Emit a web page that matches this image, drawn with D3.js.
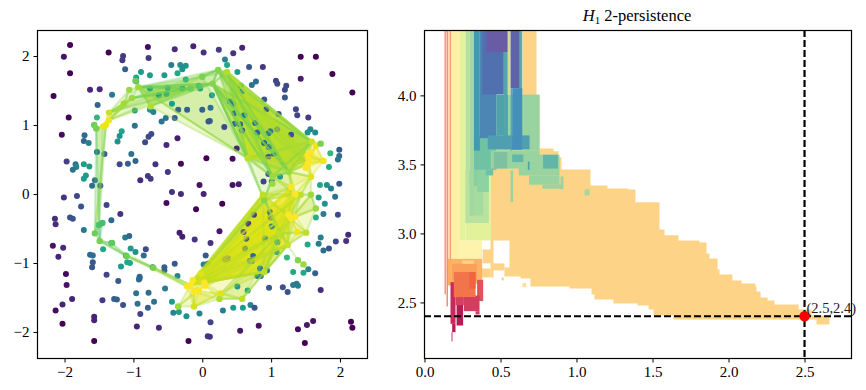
<!DOCTYPE html>
<html>
<head>
<meta charset="utf-8">
<script src="https://cdn.jsdelivr.net/npm/d3@7"></script>
<style>
body { margin: 0; background: #fff; }
text { font-family: "Liberation Serif", serif; }
.tick text { font-size: 15px; fill: #000; }
</style>
</head>
<body>
<svg id="chart" width="866" height="390"></svg>
<script>
// point cloud: x, y, density (viridis position)
var points = [
[-1.92,2.16,0],[-2.01,1.99,.05],[-1.92,1.75,0],[-2.16,1.42,0],[-1.36,2.05,0],[-.79,2.13,.03],[-.40,2.10,.12],[-.13,2.14,.1],
[-1.15,2.0,.17],[-1.16,1.94,.17],[-.78,1.97,.17],[-1.12,1.81,.3],[-.45,1.87,.42],[-.32,1.87,.5],[-.24,1.86,.5],[-.29,1.81,.5],
[-.89,1.77,.55],[-.96,1.69,.6],[-.76,1.72,.55],[-.55,1.72,.55],[-.36,1.75,.6],[-1.63,1.51,.1],[-1.49,1.52,.12],[-1.31,1.44,.4],
[-1.52,1.29,.32],[-1.94,1.11,0],[-1.53,1.11,.66],[-2.04,.86,.03],[-1.71,.85,.35],[-1.72,.77,.33],[-1.65,.74,.42],[-1.20,.84,.5],
[-1.17,.91,.58],[-1.23,.76,.5],[-.98,.99,.38],[-.98,1.21,.55],[-.76,1.22,.52],[-.71,1.19,.45],[-.59,1.05,.38],[-.53,1.10,.38],
[-.40,1.10,.3],[-.35,1.22,.32],[-.22,1.22,.3],[0,1.22,.3],[-.44,1.31,.55],[-.74,.87,.22],[-.78,.83,.22],[-.83,.75,.22],
[-.36,.81,.08],[-.52,.71,.12],[-1.53,.61,.38],[-1.42,.58,.3],[-1.97,.47,.18],[-1.84,.43,.4],[-1.83,.39,.45],[-1.88,.35,.38],
[-1.72,.43,.55],[-1.64,.40,.55],[-1.03,.58,.38],[-1.08,.44,.3],[-1.20,.43,.22],[-.97,.48,.33],[-.68,.43,.15],[-.31,.44,.02],
[-.50,.32,.17],[-.79,.26,.17],[-.75,.22,.17],[-.90,.20,.12],[-1.69,.27,.55],[-1.72,.22,.55],[-1.56,.20,.38],[-1.60,.12,.35],
[-1.48,.12,.25],[-.44,.03,.15],[-.31,0,.12],[-.04,.13,.05],[-2.01,-.05,.15],[-1.82,-.03,.22],[-.96,1.63,.65],[-.76,1.53,.6],
[-.50,1.54,.55],[-.63,1.43,.55],[-.52,1.45,.55],[-.29,1.53,.55],[-.24,1.66,.6],[-.05,1.57,.55],
[-1.76,-.18,.25],[-1.39,-.16,.2],[-1.19,-.29,.15],[-2.14,-.36,.13],[-2.13,-.44,.13],[-1.92,-.34,.25],[-1.88,-.36,.25],[-1.32,-.38,.33],
[-1.72,-.52,.4],[-.52,-.13,.03],[-.09,-.22,0],[-.33,-.56,.08],[-.29,-.62,.08],[-.11,-.66,.15],[-2.17,-.75,.05],[-2.02,-.78,.12],
[-2.09,-.91,.1],[-1.12,-.63,.42],[-1.06,-.61,.33],[-1.44,-.80,.6],[-1.32,-.71,.6],[-1.04,-.79,.55],[-.97,-.84,.5],[-.82,-.80,.22],
[-.85,-.89,.35],[-1.11,-.89,.55],[-1.63,-.88,.35],[-1.59,-.89,.35],[-1.59,-.99,.27],[-1.60,-1.06,.27],[-1.18,-1.05,.55],[-1.09,-.99,.6],
[-1.05,-1.0,.6],[-.72,-1.06,.33],[-.55,-1.06,.3],[-.55,-1.11,.3],[-.40,-1.01,.27],[-.36,-1.19,.45],[-1.39,-1.17,.2],[-1.98,-1.16,.02],
[-1.97,-1.32,.05],[-1.22,-1.26,.27],[-.91,-1.20,.33],[-.91,-1.22,.33],[-.92,-1.24,.33],[-.54,-1.37,.42],[-.96,-1.44,.38],[-.78,-1.43,.35],
[-1.89,-1.52,.1],[-2.03,-1.60,.1],[-2.13,-1.69,.03],[-1.45,-1.54,.17],[-1.28,-1.52,.3],[-1.24,-1.53,.3],[-.94,-1.59,.38],[-.70,-1.56,.38],
[-1.15,-1.61,.25],[-.79,-1.65,.3],[-.44,-1.56,.55],[-.90,-1.74,.2],[-.42,-1.72,.45],[-.34,-1.71,.55],[-.23,-1.77,.5],[-.04,-1.73,.45],
[-2.03,-1.88,0],[-1.57,-1.78,.1],[-1.57,-1.83,.1],[-.95,-1.92,.1],[-.63,-1.94,.12],[-1.57,-2.13,0],[-.20,-2.13,0],
[.02,2.05,.15],[.24,2.09,.17],[.45,2.04,.15],[.58,2.12,.1],[1.43,1.99,0],[1.65,1.99,0],[1.89,1.74,0],[1.43,1.67,.08],
[2.18,1.47,0],[.33,1.95,.45],[.36,1.87,.6],[.51,1.77,.55],[.68,1.84,.27],[.88,1.84,.17],[1.07,1.64,.2],[1.09,1.60,.22],
[1.22,1.57,.22],[1.20,1.51,.22],[1.20,1.40,.27],[.78,1.63,.35],[.72,1.58,.38],[.56,1.57,.55],[.58,1.49,.5],[-.03,1.53,.6],
[.90,1.37,.27],[1.36,1.23,.2],[1.38,1.14,.2],[1.54,1.11,.17],[.93,1.23,.25],[1.11,1.16,.25],[.40,1.34,.42],[.45,1.31,.42],
[.14,1.43,.55],[.12,1.25,.38],[.47,1.17,.38],[.61,1.14,.38],[.77,1.03,.33],[.09,1.05,.27],[.11,1.06,.27],[.32,.97,.22],
[.47,1.02,.33],[.55,1.01,.35],[.58,.92,.3],[.80,.89,.33],[.99,.91,.4],[.96,.88,.42],[1.09,.94,.33],[1.29,.86,.25],
[1.57,.94,.45],[1.53,.89,.5],[1.64,.89,.48],[.90,.74,.27],[.97,.68,.28],[.50,.66,.1],[.06,.52,0],[.44,.51,.03],
[1.04,.58,.27],[.96,.54,.27],[1.86,.59,.66],[1.99,.64,.27],[1.99,.55,.35],[1.97,.50,.38],[1.84,.39,.6],[.96,.29,.3],
[.89,.18,.2],[1.01,.18,.42],[1.13,.25,.55],[.53,.14,.08],[.44,.13,.05],[.02,0,.1],[1.71,.13,.6],[1.81,.13,.5],
[1.87,.08,.42],[1.99,.15,.27],[1.69,-.05,.55],[1.93,-.04,.38],
[1.78,-.14,.5],[1.76,-.29,.42],[1.97,-.30,.22],[1.65,-.34,.63],[.29,-.14,0],[.75,-.30,.17],[.98,-.26,.3],[.99,-.34,.3],
[.67,-.43,.15],[1.01,-.47,.42],[.25,-.54,.06],[.60,-.55,.17],[.12,-.71,.15],[.64,-.65,.22],[.91,-.64,.42],[1.09,-.70,.5],
[1.72,-.63,.42],[2.12,-.59,.12],[2.09,-.68,.15],[1.94,-.69,.22],[1.69,-.72,.42],[1.53,-.73,.6],[.62,-.79,.27],[1.08,-.84,.55],
[1.76,-.82,.35],[1.84,-.79,.27],[.05,-.89,.27],[.33,-.95,.22],[.37,-.93,.22],[.74,-.90,.33],[.69,-.97,.38],[.72,-.97,.38],
[1.23,-.92,.66],[.02,-1.02,.42],[.08,-1.01,.42],[.84,-1.08,.42],[.94,-1.11,.38],[.80,-1.19,.42],[.85,-1.19,.42],[1.32,-1.13,.6],
[1.47,-1.14,.6],[1.54,-1.09,.45],[1.64,-1.15,.3],[.51,-1.34,.55],[.66,-1.40,.55],[.97,-1.36,.27],[1.17,-1.35,.25],[1.24,-1.42,.25],
[1.32,-1.32,.42],[1.37,-1.30,.42],[1.39,-1.33,.42],[1.72,-1.39,.12],[.30,-1.69,.42],[.45,-1.65,.55],[.59,-1.65,.55],[.70,-1.61,.45],
[.76,-1.65,.25],[.12,-1.86,.2],[.55,-1.98,.06],[.82,-1.91,.05],[1.39,-1.96,.03],[1.52,-1.90,.07],[1.61,-1.84,.05],[2.16,-1.85,0],
[2.18,-1.94,0],[.08,-2.06,.15],[.11,-2.07,.15],[1.49,-2.16,0]
];

// simplicial complex vertices: x, y, filtration (viridis position)
var verts = [
[-1.57,1.00,.78],[-1.54,.95,.8],[-1.40,1.00,.97],[-1.355,1.07,.98],[-1.355,1.18,.92],[-1.44,.98,.97],[-1.14,1.31,.86],[-1.06,1.51,.85],
[-.93,1.55,.86],[-1.02,1.39,.85],[-.97,1.64,.78],[.23,1.8,.82],[.36,1.77,.88],[.15,1.6,.82],[-.17,1.53,.78],[0,1.7,.8],
[1.59,.76,.92],[1.65,.70,.98],[1.76,.48,.98],[1.53,.44,1],[1.72,.73,.8],[1.58,.25,.95],[1.26,.32,.85],[1.02,.15,.85],
[1.53,.56,1],[-.75,1.27,.88],[.9,-.09,.82],[.66,.52,.9],[1.02,.25,.85],[1.29,-.35,1],[1.25,-.3,1],[1.35,-.33,1],
[1.51,-.56,.9],[1.65,-.21,.85],[1.58,-.01,.85],[1.24,-.74,.92],[1.12,-.57,.9],[1.39,-.96,.82],[1.47,-1.02,.85],[1.43,-.01,.9],
[.88,-.01,.9],[1.38,-.55,.97],[1.29,.1,1],[1.35,0,1],[.58,-1.52,.9],[.25,-1.52,.88],[-.12,-1.63,.93],[-.17,-1.32,1],
[.03,-1.28,1],[.05,-1.33,1],[-.22,-1.34,1],[-.14,-1.25,1],[-.35,-1.63,.85],[-.12,-1.42,1],[.27,-1.44,.95],[-.02,-1.15,.95],
[.9,-1.13,.9],[-.05,-1.4,1],[-1.49,-.68,.8],[-1.56,-.57,.78],[-1.5,-.45,.72],[-1.45,-.42,.7],[-1.31,-.71,.75],[-1.10,-.9,.78],
[-.71,-1.07,.8],[1.55,.5,1],[1.5,.38,1],[1.58,.6,1]
];
var tris = [
[1,2,59],[2,59,60],[1,5,60],[5,4,6],[3,4,9],[4,6,7],[3,6,9],[6,7,8],
[9,8,14],[3,9,14],[4,9,13],[8,14,13],[8,11,13],[9,13,11],[8,25,13],[8,25,27],[8,13,27],[8,25,14],[8,15,27],
[12,16,22],[12,22,13],[13,22,27],[13,27,28],[12,16,24],[13,12,11],[11,12,15],[16,24,22],[12,28,22],[13,16,22],[11,16,22],
[12,22,27],[13,16,27],[11,16,27],[12,16,27],[16,28,27],[12,19,27],[13,22,28],[12,19,22],[11,19,22],[12,24,27],
[12,16,19],[12,65,27],[13,19,27],[11,19,27],[13,24,27],[11,24,22],[13,19,22],[11,16,28],[12,16,28],[13,16,28],[12,24,28],[12,65,28],
[16,17,19],[17,18,19],[16,17,20],[19,21,22],[24,18,21],[19,24,18],[13,26,27],[27,28,26],[65,18,17],[66,18,67],[65,66,21],
[22,21,43],[28,22,42],[26,28,42],[22,42,21],[21,43,39],[21,34,39],[34,33,29],[26,28,43],[28,43,22],[40,26,43],[40,26,42],[42,43,30],
[40,36,47],[40,29,48],[26,30,51],[42,36,55],[43,35,49],[40,35,53],[26,36,48],[30,35,50],[29,56,48],[42,56,47],[36,56,54],[35,44,54],[35,56,44],[36,45,44],[36,54,48],[26,55,47],
[26,40,47],[40,30,51],[42,35,48],[43,36,47],[42,30,55],[40,56,48],[26,35,47],[39,36,55],[40,43,47],[39,35,51],[40,29,47],[43,56,51],[43,29,51],[42,35,51],[39,56,47],[40,36,51],
[35,56,48],[35,56,47],[36,56,47],[29,56,47],
[29,32,36],[29,41,32],[30,36,41],[31,33,32],[29,33,34],[34,39,29],[32,35,36],[35,41,32],
[47,46,50],[46,52,53],[53,46,54],[49,54,45],[54,45,44],[46,45,53],[46,54,57],[47,52,57],[50,51,57],[48,49,57],[47,48,53],[55,48,51],
[58,59,60],[60,61,58],[58,62,63],[58,63,47],[63,64,50],[64,47,50]
];
var extraEdges = [[35,37],[37,38],[58,62],[63,64],[4,14],[3,13],[4,11],[3,11],[17,24],[18,24]];

// 2-persistence: main stairs region (left edge x, top y, bottom y)
var stairX = [.434,.454,.559,.605,.632,.645,.697,.737,.757,.849,.882,.901,.954,1.092,1.099,1.118,1.204,1.243,1.342,1.388,1.401,1.474,1.507,1.546,1.579,1.638,1.671,1.809,1.855,1.875,1.928,1.941,2.026,2.086,2.178,2.184,2.211,2.257,2.303,2.461,2.546,2.579,2.664];
var stairTop = [3.60,3.60,3.60,3.60,3.60,4.47,4.47,4.005,3.616,3.596,3.551,3.464,3.464,3.348,3.348,3.348,3.326,3.326,3.319,3.225,3.225,3.225,3.225,3.029,2.986,2.986,2.949,2.935,2.855,2.819,2.739,2.703,2.659,2.638,2.616,2.58,2.536,2.514,2.486,2.449,2.406,2.406,2.406];
var stairBot = [2.681,2.949,2.710,2.688,2.674,2.674,2.616,2.616,2.616,2.616,2.616,2.616,2.601,2.601,2.558,2.522,2.522,2.493,2.493,2.493,2.478,2.449,2.406,2.406,2.406,2.377,2.377,2.377,2.377,2.377,2.377,2.377,2.377,2.377,2.377,2.377,2.377,2.377,2.377,2.377,2.377,2.341,2.341];

// rank regions: x0, x1, y top, y bottom, colour, in drawing order
var blocks = [
[.382,.447,2.884,2.783,"#fdd487"],[.441,.526,2.783,2.732,"#fdd487"],[.526,.605,2.754,2.688,"#fdd487"],[.368,.434,2.746,2.681,"#fdd487"],
[.508,.52,2.68,2.66,"#fcc279"],[.645,.668,2.64,2.61,"#fee08b"],
[.132,.140,4.47,2.558,"#f47f6c"],[.145,.154,4.47,2.471,"#f47f6c"],[.154,.167,4.47,2.75,"#fdd9b0"],[.167,.175,4.47,2.80,"#f89a72"],
[.154,.182,2.816,2.623,"#fdae61"],
[.175,.232,4.47,2.816,"#fff0a6"],[.232,.270,4.47,2.949,"#e4f29a"],[.232,.379,2.949,2.804,"#fef3ac"],[.270,.436,3.46,2.949,"#e1f29b"],
[.270,.298,4.47,3.075,"#b5e0a0"],[.27,.423,3.46,3.075,"#b9e2a1"],[.298,.386,3.46,3.13,"#a6dba0"],[.298,.346,3.46,3.343,"#86cfa3"],[.346,.423,3.46,3.3,"#8fd2a2"],
[.298,.325,4.47,3.13,"#a0d8a0"],[.404,.452,3.46,3.42,"#6fc0a8"],
[.325,.474,3.71,3.46,"#70c2a5"],[.436,.757,3.60,3.47,"#98d3a0"],
[.474,.757,4.005,3.6,"#98d3a0"],
[.325,.364,4.47,3.60,"#3f9ab5"],[.364,.474,4.47,3.69,"#4c86b5"],[.379,.522,4.47,4.007,"#5070b0"],[.408,.548,4.47,4.314,"#6a5ba5"],
[.474,.548,4.005,3.71,"#4ea2ab"],[.522,.548,4.314,3.61,"#52a5a8"],[.548,.566,4.47,4.005,"#d6dc8f"],[.566,.627,4.47,4.053,"#5f63aa"],[.627,.643,4.47,4.005,"#5aa9ac"],
[.566,.577,4.053,3.6,"#5aa8a8"],[.416,.691,3.71,3.61,"#4f9fb0"],[.577,.643,4.053,3.606,"#4590bb"],
[.456,.544,3.589,3.471,"#7fc0a0"],
[.62,.888,3.57,3.42,"#98d3a0"],[.688,.888,3.42,3.353,"#98d3a0"],[.776,.911,3.353,3.324,"#98d3a0"],[.566,.583,3.457,3.227,"#98d3a0"],
[.78,.878,3.57,3.47,"#63b5a8"],[.577,.65,3.572,3.517,"#62b8a8"],[.68,.691,3.52,3.46,"#4ea4aa"],
[.895,.914,3.413,3.319,"#98d3a0"],[1.053,1.086,3.319,3.275,"#a5d8a0"],
[.175,.379,2.816,2.635,"#fbb36a"],[.248,.325,2.804,2.73,"#fdd487"],[.182,.346,2.78,2.659,"#fb9f5a"],
[.171,.204,2.647,2.345,"#c7295c"],[.211,.254,2.527,2.333,"#b81a55"],[.182,.204,2.345,2.285,"#bb1a55"],[.178,.184,2.285,2.217,"#c7295c"],
[.346,.386,2.664,2.51,"#e0525c"],[.259,.362,2.55,2.437,"#d33d60"],[.336,.362,2.437,2.413,"#d33d60"],
[.204,.259,2.627,2.48,"#d63f5f"],[.193,.336,2.72,2.539,"#f2744a"],[.295,.336,2.72,2.6,"#f0643f"]
];

var xTicksLeft = [-2,-1,0,1,2], yTicksLeft = [-2,-1,0,1,2];
var xTicksRight = [0,.5,1,1.5,2,2.5], yTicksRight = [2.5,3,3.5,4];
var marker = {x: 2.5, y: 2.4, label: "(2.5,2.4)"};

var svg = d3.select("#chart");

var xL = d3.scaleLinear().domain([-2.393,2.40]).range([37.5,367.5]);
var yL = d3.scaleLinear().domain([-2.384,2.37]).range([358.5,30.5]);
var xR = d3.scaleLinear().domain([0,2.809]).range([424.5,851.5]);
var yR = d3.scaleLinear().domain([2.094,4.47]).range([358.5,30.5]);

svg.append("defs").append("clipPath").attr("id","clipR").append("rect")
  .attr("x",424.5).attr("y",30.5).attr("width",427).attr("height",328);

// ---- left panel
var gL = svg.append("g");

function triPath(t) {
  return "M" + t.map(function(i){ return xL(verts[i][0]) + "," + yL(verts[i][1]); }).join("L") + "Z";
}
function triC(t) { return d3.mean(t, function(i){ return verts[i][2]; }); }

gL.selectAll(".tri").data(tris).enter().append("path")
  .attr("class","tri")
  .attr("d",triPath)
  .attr("fill",function(d){ return d3.interpolateViridis(triC(d)); })
  .attr("fill-opacity",.25);

gL.selectAll(".pt").data(points).enter().append("circle")
  .attr("class","pt")
  .attr("cx",function(d){ return xL(d[0]); })
  .attr("cy",function(d){ return yL(d[1]); })
  .attr("r",3)
  .attr("fill",function(d){ return d3.interpolateViridis(d[2]); });

var edges = extraEdges.slice();
tris.forEach(function(t){ edges.push([t[0],t[1]],[t[1],t[2]],[t[0],t[2]]); });

gL.selectAll(".edge").data(edges).enter().append("line")
  .attr("class","edge")
  .attr("x1",function(d){ return xL(verts[d[0]][0]); })
  .attr("y1",function(d){ return yL(verts[d[0]][1]); })
  .attr("x2",function(d){ return xL(verts[d[1]][0]); })
  .attr("y2",function(d){ return yL(verts[d[1]][1]); })
  .attr("stroke",function(d){ return d3.interpolateViridis((verts[d[0]][2]+verts[d[1]][2])/2 - .05); })
  .attr("stroke-width",2.2)
  .attr("stroke-opacity",.3);

gL.selectAll(".vert").data(verts).enter().append("circle")
  .attr("class","vert")
  .attr("cx",function(d){ return xL(d[0]); })
  .attr("cy",function(d){ return yL(d[1]); })
  .attr("r",3.2)
  .attr("fill",function(d){ return d3.interpolateViridis(d[2]); });

// ---- right panel
var gR = svg.append("g").attr("clip-path","url(#clipR)");

var stairs = d3.area()
  .x(function(i){ return xR(stairX[i]); })
  .y0(function(i){ return yR(stairBot[i]); })
  .y1(function(i){ return yR(stairTop[i]); })
  .curve(d3.curveStepAfter);

gR.append("path").attr("d",stairs(d3.range(stairX.length))).attr("fill","#fdd487");

gR.selectAll(".block").data(blocks).enter().append("rect")
  .attr("class","block")
  .attr("x",function(d){ return xR(d[0]); })
  .attr("width",function(d){ return xR(d[1])-xR(d[0]); })
  .attr("y",function(d){ return yR(d[2]); })
  .attr("height",function(d){ return yR(d[3])-yR(d[2]); })
  .attr("fill",function(d){ return d[4]; });

gR.append("line").attr("x1",xR(marker.x)).attr("x2",xR(marker.x)).attr("y1",30).attr("y2",358)
  .attr("stroke","#000").attr("stroke-width",2.2).attr("stroke-dasharray","7,3");
gR.append("line").attr("x1",424).attr("x2",851).attr("y1",yR(marker.y)).attr("y2",yR(marker.y))
  .attr("stroke","#000").attr("stroke-width",2.2).attr("stroke-dasharray","7,3");
gR.append("circle").attr("cx",xR(marker.x)).attr("cy",yR(marker.y)).attr("r",5.2).attr("fill","#f00");

svg.append("text").attr("x",xR(marker.x)+2).attr("y",yR(marker.y)-3)
  .attr("font-size",14.5).attr("fill","#222").text(marker.label);

// ---- axes and frames
function frame(x0,x1,y0,y1) {
  svg.append("rect").attr("x",x0).attr("y",y0).attr("width",x1-x0).attr("height",y1-y0)
    .attr("fill","none").attr("stroke","#000").attr("stroke-width",1.2);
}
frame(37.5,367.5,30.5,358.5);
frame(424.5,851.5,30.5,358.5);

function addAxes(x,y,xTicks,yTicks,fx,fy) {
  svg.append("g").attr("transform","translate(0,358.5)")
    .call(d3.axisBottom(x).tickValues(xTicks).tickFormat(fx).tickSize(4).tickSizeOuter(0).tickPadding(4));
  svg.append("g").attr("transform","translate("+x.range()[0]+",0)")
    .call(d3.axisLeft(y).tickValues(yTicks).tickFormat(fy).tickSize(4).tickSizeOuter(0).tickPadding(4));
}
addAxes(xL,yL,xTicksLeft,yTicksLeft,d3.format("d"),d3.format("d"));
addAxes(xR,yR,xTicksRight,yTicksRight,d3.format(".1f"),d3.format(".1f"));
svg.selectAll(".domain").attr("stroke","none");

// title
var title = svg.append("text").attr("x",637).attr("y",21).attr("text-anchor","middle")
  .attr("font-size",16.5).attr("fill","#000");
title.append("tspan").attr("font-style","italic").text("H");
title.append("tspan").attr("font-size",11).attr("dy",3).text("1");
title.append("tspan").attr("dy",-3).text(" 2-persistence");
</script>
</body>
</html>
